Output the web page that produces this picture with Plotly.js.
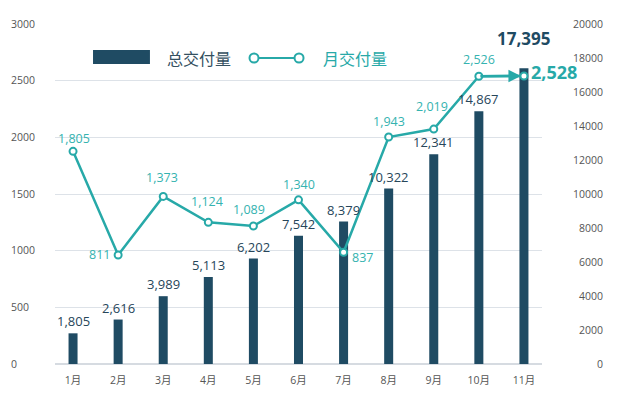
<!DOCTYPE html>
<html>
<head>
<meta charset="utf-8">
<script src="https://cdn.plot.ly/plotly-3.0.1.min.js"></script>
<style>html,body{margin:0;padding:0;background:#fff;}#chart{width:625px;height:406px;}</style>
</head>
<body>
<div id="chart"></div>
<script>
// ---- data ----
var months = ['1月','2月','3月','4月','5月','6月','7月','8月','9月','10月','11月'];
var cumulative = [1805, 2616, 3989, 5113, 6202, 7542, 8379, 10322, 12341, 14867, 17395];
var monthly = [1805, 811, 1373, 1124, 1089, 1340, 837, 1943, 2019, 2526, 2528];
var barName = '总交付量';
var lineName = '月交付量';

// ---- style ----
var FONT = '"Open Sans", "Noto Sans CJK SC", sans-serif';
var CJK = '"Noto Sans CJK SC", "Open Sans", sans-serif';
var NAVY = '#1f4b63';
var NAVY_TXT = '#27465a';
var TEAL = '#27a9a8';
var TEAL_TXT = '#35b3b0';
var GRID = '#dde2e8';
var TICK = '#555555';

// label placement style per point of the line
var linePos = ['top','left','top','top','top','top','right','top','top','top','right'];
var lineYShift = [2, 0, 8, 10, 6, 5, -5, 5, 12, 6, 4];
var lineXShift = [1, -6, -1, -1, -4, 1, 6, 0, -2, 0, 6];

function fmt(v){ return v.toLocaleString('en-US'); }

var traces = [
  // empty trace that only anchors the left axis (0-3000) and its grid
  {type: 'scatter', mode: 'markers', x: [], y: [], xaxis: 'x', yaxis: 'y', showlegend: false, hoverinfo: 'skip'},
  {
    type: 'bar', x: months, y: cumulative, yaxis: 'y2', name: barName,
    width: 0.2, marker: {color: NAVY}, hoverinfo: 'x+y', showlegend: false
  },
  {
    type: 'scatter', mode: 'lines+markers', x: months, y: monthly, yaxis: 'y3', name: lineName,
    line: {color: TEAL, width: 2.5},
    marker: {symbol: 'circle', size: 7, color: '#ffffff', line: {color: TEAL, width: 2}},
    hoverinfo: 'x+y', showlegend: false
  }
];

var annotations = [];
var last = cumulative.length - 1;
cumulative.forEach(function(v, i){
  var isLast = i === last;
  annotations.push({
    x: i, y: v, xref: 'x', yref: 'y2', showarrow: false,
    text: isLast ? '<b>' + fmt(v) + '</b>' : fmt(v),
    yanchor: 'bottom', yshift: isLast ? 16 : 1,
    font: {family: FONT, size: isLast ? 17 : 13, color: isLast ? NAVY : NAVY_TXT}
  });
});
monthly.forEach(function(v, i){
  var isLast = i === monthly.length - 1;
  var p = linePos[i];
  var a = {
    x: i, y: v, xref: 'x', yref: 'y3', showarrow: false,
    text: isLast ? '<b>' + fmt(v) + '</b>' : fmt(v),
    xshift: lineXShift[i], yshift: lineYShift[i],
    font: {family: FONT, size: isLast ? 18 : 12.5, color: isLast ? TEAL : TEAL_TXT},
    borderpad: isLast ? 0 : 1
  };
  if (p === 'top') { a.yanchor = 'bottom'; a.xanchor = 'center'; }
  else if (p === 'left') { a.xanchor = 'right'; a.yanchor = 'middle'; }
  else { a.xanchor = 'left'; a.yanchor = 'middle'; }
  annotations.push(a);
});
// arrow on the last segment of the line
annotations.push({
  x: monthly.length - 1, y: monthly[monthly.length - 1], xref: 'x', yref: 'y3',
  ax: monthly.length - 2, ay: monthly[monthly.length - 2], axref: 'x', ayref: 'y3',
  text: '', showarrow: true, arrowhead: 2, arrowsize: 1, arrowwidth: 2.5,
  arrowcolor: TEAL, standoff: 3
});
// legend text
annotations.push({
  x: 0.2614, y: 0.9, xref: 'paper', yref: 'paper', xanchor: 'left', yanchor: 'middle',
  showarrow: false, text: barName, font: {family: CJK, size: 16, color: '#34505f'}
});
annotations.push({
  x: 0.5245, y: 0.9, xref: 'paper', yref: 'paper', xanchor: 'left', yanchor: 'middle',
  showarrow: false, text: lineName, font: {family: CJK, size: 16, color: TEAL}
});

var shapes = [
  {type: 'rect', xref: 'paper', yref: 'paper', x0: 0.140, x1: 0.236, y0: 0.882, y1: 0.9235,
   fillcolor: NAVY, line: {width: 0}},
  {type: 'line', xref: 'paper', yref: 'paper', x0: 0.4115, x1: 0.4874, y0: 0.9, y1: 0.9,
   line: {color: TEAL, width: 2}},
  {type: 'circle', xref: 'paper', yref: 'paper', xsizemode: 'pixel', ysizemode: 'pixel',
   xanchor: 0.4115, yanchor: 0.9, x0: -4.5, x1: 4.5, y0: -4.5, y1: 4.5,
   fillcolor: '#ffffff', line: {color: TEAL, width: 2}},
  {type: 'circle', xref: 'paper', yref: 'paper', xsizemode: 'pixel', ysizemode: 'pixel',
   xanchor: 0.4874, yanchor: 0.9, x0: -4.5, x1: 4.5, y0: -4.5, y1: 4.5,
   fillcolor: '#ffffff', line: {color: TEAL, width: 2}}
];

var layout = {
  width: 625, height: 406,
  margin: {l: 10, r: 22, t: 24, b: 42},
  paper_bgcolor: '#ffffff', plot_bgcolor: 'rgba(0,0,0,0)',
  font: {family: FONT, color: TICK},
  showlegend: false,
  xaxis: {
    type: 'category', categoryarray: months, categoryorder: 'array',
    domain: [0.0759, 0.8971], range: [-0.4, 10.4],
    showgrid: false, showline: false, zeroline: false, ticks: '',
    tickfont: {family: FONT, size: 10.5, color: TICK}, ticklabelstandoff: 8,
    fixedrange: true
  },
  yaxis: {
    range: [0, 3000], dtick: 500, side: 'right', anchor: 'free', position: 0,
    showgrid: true, gridcolor: GRID, gridwidth: 1, tickformat: 'd',
    zeroline: true, zerolinecolor: '#d6dbe1', zerolinewidth: 1.5,
    showline: false, ticks: '',
    tickfont: {family: FONT, size: 10.5, color: TICK}, automargin: false, fixedrange: true
  },
  yaxis2: {
    range: [0, 20000], dtick: 2000, overlaying: 'y', side: 'left', anchor: 'free', position: 1,
    showgrid: false, zeroline: false, showline: false, ticks: '', tickformat: 'd',
    tickfont: {family: FONT, size: 10.5, color: TICK}, automargin: false, fixedrange: true
  },
  yaxis3: {
    range: [-235, 3027], overlaying: 'y', visible: false, fixedrange: true
  },
  annotations: annotations,
  shapes: shapes
};

Plotly.newPlot('chart', traces, layout, {displayModeBar: false, staticPlot: true});
</script>
</body>
</html>
